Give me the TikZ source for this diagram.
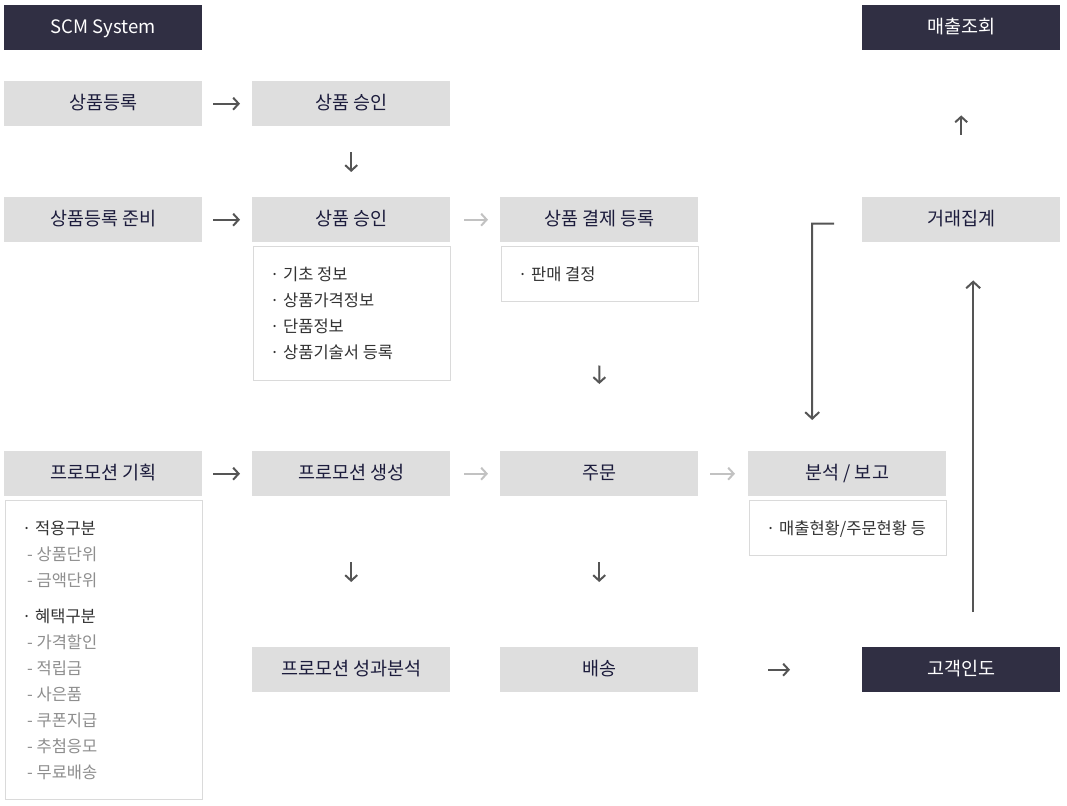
\documentclass[tikz,border=0pt]{standalone}
\usepackage{fontspec}
\setmainfont{Noto Sans CJK KR}
\usetikzlibrary{arrows.meta}
\definecolor{darkbox}{HTML}{302F43}
\definecolor{graybox}{HTML}{DEDEDE}
\definecolor{bordergray}{HTML}{DADADA}
\definecolor{navytext}{HTML}{1C1C3C}
\definecolor{darkarrow}{HTML}{555555}
\definecolor{lightarrow}{HTML}{C2C2C2}
\definecolor{itemtext}{HTML}{333333}
\definecolor{subtext}{HTML}{8E8E8E}
\tikzset{
  lbl/.style={rectangle, anchor=north west, minimum width=198pt, minimum height=45pt, inner sep=0pt, font=\fontsize{18.5}{22}\selectfont, text height=1.12em, text depth=0.04em},
  graylbl/.style={lbl, fill=graybox, text=navytext},
  darklbl/.style={lbl, fill=darkbox, text=white},
  detailbox/.style={rectangle, anchor=north west, minimum width=197pt, inner sep=0pt, draw=bordergray, line width=1pt, fill=white},
  item/.style={anchor=base west, inner sep=0pt, text=itemtext, font=\fontsize{16.5}{19}\selectfont},
  subitem/.style={item, text=subtext},
  darr/.style={draw=darkarrow, line width=2pt, -{Straight Barb[length=5.5pt,width=12pt,line width=2pt]}},
  larr/.style={draw=lightarrow, line width=2pt, -{Straight Barb[length=5.5pt,width=12pt,line width=2pt]}},
  longarr/.style={draw=darkarrow, line width=2pt, -{Straight Barb[length=6.5pt,width=14pt,line width=2pt]}},
}
\begin{document}
\begin{tikzpicture}[x=1pt,y=-1pt]
\useasboundingbox (0,0) rectangle (1067,805);
% header
\node[darklbl] (scm) at (4,5) {SCM System};
\node[darklbl] (sales) at (862,5) {매출조회};
% row 1
\node[graylbl] (r1a) at (4,81) {상품등록};
\node[graylbl] (r1b) at (252,81) {상품 승인};
% row 2
\node[graylbl] (r2a) at (4,197) {상품등록 준비};
\node[graylbl] (r2b) at (252,197) {상품 승인};
\node[graylbl] (r2c) at (500,197) {상품 결제 등록};
\node[graylbl] (r2d) at (862,197) {거래집계};
\node[detailbox, minimum height=134pt] (d2b) at (252.5,245.5) {};
\node[detailbox, minimum height=55pt] (d2c) at (500.5,245.5) {};
\node[item] (d2b1) at (270,280) {· 기초 정보};
\node[item] (d2b2) at (270,306) {· 상품가격정보};
\node[item] (d2b3) at (270,332) {· 단품정보};
\node[item] (d2b4) at (270,358) {· 상품기술서 등록};
\node[item] (d2c1) at (518,280) {· 판매 결정};
% row 3
\node[graylbl] (r3a) at (4,451) {프로모션 기획};
\node[graylbl] (r3b) at (252,451) {프로모션 생성};
\node[graylbl] (r3c) at (500,451) {주문};
\node[graylbl] (r3d) at (748,451) {분석 / 보고};
\node[detailbox, minimum height=299pt] (d3a) at (4.5,499.5) {};
\node[detailbox, minimum height=55pt] (d3d) at (748.5,499.5) {};
\node[item] (p1) at (22,534) {· 적용구분};
\node[subitem] (p2) at (27,560) {- 상품단위};
\node[subitem] (p3) at (27,586) {- 금액단위};
\node[item] (p4) at (22,622) {· 혜택구분};
\node[subitem] (p5) at (27,648) {- 가격할인};
\node[subitem] (p6) at (27,674) {- 적립금};
\node[subitem] (p7) at (27,700) {- 사은품};
\node[subitem] (p8) at (27,726) {- 쿠폰지급};
\node[subitem] (p9) at (27,752) {- 추첨응모};
\node[subitem] (p10) at (27,778) {- 무료배송};
\node[item] (d3d1) at (766,534) {· 매출현황/주문현황 등};
% row 4
\node[graylbl] (r4b) at (252,647) {프로모션 성과분석};
\node[graylbl] (r4c) at (500,647) {배송};
\node[darklbl] (r4d) at (862,647) {고객인도};
% connectors
\draw[darr, shorten <=11pt, shorten >=12pt] (r1a.east) -- (r1b.west);
\draw[darr, shorten <=26pt, shorten >=25pt] (r1b.south) -- (r2b.north);
\draw[darr, shorten <=11pt, shorten >=12pt] (r2a.east) -- (r2b.west);
\draw[larr, shorten <=14pt, shorten >=12pt] (r2b.east) -- (r2c.west);
\draw[darr, shorten <=64pt, shorten >=67pt] (d2c.south) -- (r3c.north);
\draw[darr, shorten <=11pt, shorten >=12pt] (r3a.east) -- (r3b.west);
\draw[larr, shorten <=14pt, shorten >=12pt] (r3b.east) -- (r3c.west);
\draw[larr, shorten <=12pt, shorten >=13pt] (r3c.east) -- (r3d.west);
\draw[darr, shorten <=66pt, shorten >=65pt] (r3b.south) -- (r4b.north);
\draw[darr, shorten <=66pt, shorten >=65pt] (r3c.south) -- (r4c.north);
\draw[darr, shorten <=70pt, shorten >=72pt] (r4c.east) -- (r4d.west);
\draw[darr, shorten <=62pt, shorten >=65pt] (r2d.north) -- (sales.south);
\draw[longarr] ([xshift=12pt,yshift=35pt]r4d.north) -- ([xshift=12pt,yshift=-38pt]r2d.south);
\draw[longarr] ([xshift=-28pt,yshift=-4pt]r2d.west) -- ++(-22,0) -- ([xshift=-35pt,yshift=31pt]r3d.north);
\end{tikzpicture}
\end{document}
